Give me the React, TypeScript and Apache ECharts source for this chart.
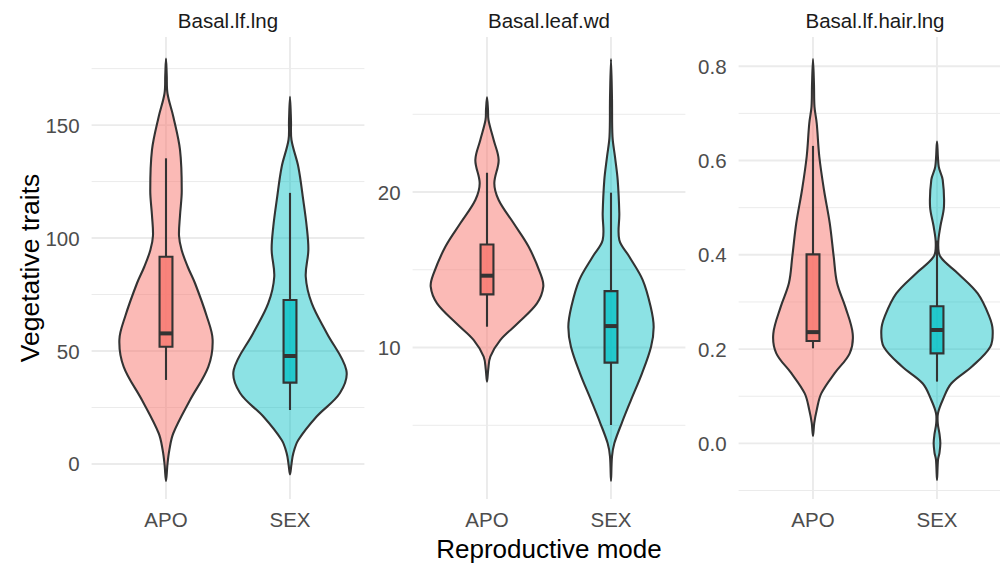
import React, { useEffect, useRef } from "react";
import * as echarts from "echarts";

// ---- data ----
const facets = ["Basal.lf.lng", "Basal.leaf.wd", "Basal.lf.hair.lng"];
const modes = ["APO", "SEX"];
const yLabelTicks = [[0, 50, 100, 150], [10, 20], [0, 0.2, 0.4, 0.6, 0.8]];
const yMinorTicks = [[25, 75, 125, 175], [5, 15, 25], [-0.1, 0.1, 0.3, 0.5, 0.7]];
const yRanges = [[-15.5, 189], [0.26, 29.97], [-0.118, 0.862]];

// violin outlines: [value, half-width of density in category units]
const lngApo = [[179.5, 0], [172, 0.006], [164, 0.012], [153.7, 0.059], [139, 0.113], [121, 0.127], [110, 0.113], [101, 0.105], [94.7, 0.126], [87.3, 0.175], [80, 0.234], [65.5, 0.328], [55, 0.376], [43, 0.341], [28.3, 0.194], [13.6, 0.059], [6.2, 0.027], [0, 0.012], [-7.5, 0]];
const lngSex = [[162.5, 0], [152, 0.008], [143.4, 0.012], [131.6, 0.067], [116.8, 0.107], [105, 0.135], [94.7, 0.148], [82.9, 0.127], [71.2, 0.175], [58, 0.296], [41.6, 0.454], [31.4, 0.403], [21, 0.215], [10.6, 0.067], [4.8, 0.027], [0, 0.012], [-4.6, 0]];
const wdApo = [[26.09, 0], [25.3, 0.008], [24.63, 0.012], [23.34, 0.054], [22.06, 0.094], [20.56, 0.059], [19.49, 0.094], [17.99, 0.215], [16.48, 0.336], [14.77, 0.43], [13.91, 0.454], [12.84, 0.403], [11.56, 0.248], [10.48, 0.107], [9.41, 0.027], [8.6, 0.01], [7.8, 0]];
const wdSex = [[28.55, 0], [26, 0.008], [23.56, 0.012], [22.27, 0.032], [20.77, 0.054], [18.63, 0.067], [16.91, 0.067], [15.84, 0.148], [14.34, 0.256], [12.62, 0.32], [11.34, 0.344], [10.05, 0.323], [8.34, 0.25], [6.62, 0.161], [5.13, 0.086], [3.84, 0.027], [2.98, 0.008], [1.43, 0]];
const hairApo = [[0.815, 0], [0.76, 0.008], [0.714, 0.012], [0.679, 0.03], [0.608, 0.051], [0.537, 0.089], [0.467, 0.135], [0.396, 0.167], [0.34, 0.194], [0.29, 0.26], [0.233, 0.32], [0.191, 0.296], [0.149, 0.175], [0.106, 0.067], [0.071, 0.03], [0.043, 0.01], [0.016, 0]];
const hairSex = [[0.64, 0], [0.587, 0.014], [0.559, 0.046], [0.502, 0.056], [0.46, 0.027], [0.424, 0.01], [0.396, 0.027], [0.361, 0.167], [0.318, 0.328], [0.269, 0.422], [0.24, 0.449], [0.205, 0.43], [0.163, 0.282], [0.127, 0.115], [0.092, 0.046], [0.064, 0.008], [0.043, 0.006], [0.02, 0.02], [0, 0.027], [-0.02, 0.02], [-0.035, 0.008], [-0.078, 0]];

// box stats: [lower whisker, q1, median, q3, upper whisker]
const lngApoBox = [37.2, 51.9, 57.8, 91.7, 135.3];
const lngSexBox = [23.9, 36, 47.8, 72.6, 120];
const wdApoBox = [11.34, 13.42, 14.62, 16.63, 21.24];
const wdSexBox = [5.02, 9.03, 11.38, 13.63, 19.96];
const hairApoBox = [0.2016, 0.217, 0.236, 0.401, 0.631];
const hairSexBox = [0.131, 0.191, 0.2405, 0.291, 0.43];

const violinOutlines = [[lngApo, lngSex], [wdApo, wdSex], [hairApo, hairSex]];
const boxStats = [[lngApoBox, lngSexBox], [wdApoBox, wdSexBox], [hairApoBox, hairSexBox]];

// ---- style / layout ----
const FONT = '"Liberation Sans", Arial, Helvetica, sans-serif';
const GRID_LEFT = [91.6, 412.6, 738.6];
const GRID_TOP = 37;
const GRID_W = 272.8;
const GRID_H = 462;
const VIOLIN_FILL = ["rgba(248,118,109,0.5)", "rgba(0,191,196,0.45)"];
const BOX_FILL = ["rgba(248,118,109,0.8)", "rgba(0,191,196,0.75)"];
const INK = "#333333";
const GRID_COLOR = "#EBEBEB";
const BOX_HALF = 0.052;
const LW = 2.1;

function buildOption() {
  const grid: any[] = [];
  const xAxis: any[] = [];
  const yAxis: any[] = [];
  const series: any[] = [];
  const graphic: any[] = [];

  for (let p = 0; p < 3; p++) {
    grid.push({
      left: GRID_LEFT[p],
      top: GRID_TOP,
      width: GRID_W,
      height: GRID_H,
      containLabel: false,
      outerBoundsMode: "none",
    });
    xAxis.push({
      type: "value",
      gridIndex: p,
      min: 0.4,
      max: 2.6,
      axisLine: { show: false },
      axisTick: { show: false },
      splitLine: { show: false },
      axisLabel: {
        customValues: [1, 2],
        formatter: (v: number) => modes[Math.round(v) - 1] || "",
        color: "#4D4D4D",
        fontSize: 20.5,
        fontFamily: FONT,
        margin: 10,
      },
    });
    yAxis.push({
      type: "value",
      gridIndex: p,
      min: yRanges[p][0],
      max: yRanges[p][1],
      axisLine: { show: false },
      axisTick: { show: false },
      splitLine: { show: false },
      axisLabel: {
        customValues: yLabelTicks[p],
        formatter: p === 2 ? (v: number) => v.toFixed(1) : (v: number) => String(Math.round(v)),
        color: "#4D4D4D",
        fontSize: 20.5,
        fontFamily: FONT,
        margin: 12,
      },
    });

    const pi = p;
    // grid lines
    series.push({
      type: "custom",
      xAxisIndex: p,
      yAxisIndex: p,
      silent: true,
      z: 0,
      data: [[1, yLabelTicks[p][0]]],
      renderItem: (params: any, api: any) => {
        const cs = params.coordSys;
        const children: any[] = [];
        const hline = (v: number, w: number) => {
          const y = api.coord([1, v])[1];
          children.push({
            type: "line",
            shape: { x1: cs.x, y1: y, x2: cs.x + cs.width, y2: y },
            style: { stroke: GRID_COLOR, lineWidth: w },
          });
        };
        yMinorTicks[pi].forEach((v) => hline(v, 1));
        yLabelTicks[pi].forEach((v) => hline(v, 1.9));
        modes.forEach((_, ci) => {
          const x = api.coord([ci + 1, yRanges[pi][0]])[0];
          children.push({
            type: "line",
            shape: { x1: x, y1: cs.y, x2: x, y2: cs.y + cs.height },
            style: { stroke: GRID_COLOR, lineWidth: 1.9 },
          });
        });
        return { type: "group", children };
      },
    });

    // violins
    series.push({
      type: "custom",
      xAxisIndex: p,
      yAxisIndex: p,
      silent: true,
      z: 2,
      data: modes.map((_, i) => [i + 1, boxStats[p][i][2]]),
      renderItem: (params: any, api: any) => {
        const i = params.dataIndex;
        const cx = api.value(0);
        const outline = violinOutlines[pi][i];
        const right = outline.map(([v, w]) => api.coord([cx + w, v]));
        const left = outline
          .slice(1, -1)
          .reverse()
          .map(([v, w]) => api.coord([cx - w, v]));
        return {
          type: "polygon",
          shape: { points: right.concat(left), smooth: 0.35 },
          style: { fill: VIOLIN_FILL[i], stroke: INK, lineWidth: LW, lineJoin: "round" },
        };
      },
    });

    // boxplots
    series.push({
      type: "custom",
      xAxisIndex: p,
      yAxisIndex: p,
      silent: true,
      z: 3,
      data: modes.map((_, i) => [i + 1, boxStats[p][i][2]]),
      renderItem: (params: any, api: any) => {
        const i = params.dataIndex;
        const cx = api.value(0);
        const [lo, q1, med, q3, hi] = boxStats[pi][i];
        const pLo = api.coord([cx, lo]);
        const pQ1 = api.coord([cx, q1]);
        const pQ3 = api.coord([cx, q3]);
        const pHi = api.coord([cx, hi]);
        const tl = api.coord([cx - BOX_HALF, q3]);
        const br = api.coord([cx + BOX_HALF, q1]);
        const mL = api.coord([cx - BOX_HALF, med]);
        const mR = api.coord([cx + BOX_HALF, med]);
        const lineStyle = { stroke: INK, lineWidth: LW };
        return {
          type: "group",
          children: [
            { type: "line", shape: { x1: pLo[0], y1: pLo[1], x2: pQ1[0], y2: pQ1[1] }, style: lineStyle },
            { type: "line", shape: { x1: pQ3[0], y1: pQ3[1], x2: pHi[0], y2: pHi[1] }, style: lineStyle },
            {
              type: "rect",
              shape: { x: tl[0], y: tl[1], width: br[0] - tl[0], height: br[1] - tl[1] },
              style: { fill: BOX_FILL[i], stroke: INK, lineWidth: LW },
            },
            { type: "line", shape: { x1: mL[0], y1: mL[1], x2: mR[0], y2: mR[1] }, style: { stroke: INK, lineWidth: 4 } },
          ],
        };
      },
    });

    graphic.push({
      type: "text",
      x: GRID_LEFT[p] + GRID_W / 2,
      y: 20,
      silent: true,
      style: {
        text: facets[p],
        align: "center",
        verticalAlign: "middle",
        fontSize: 20.5,
        fontFamily: FONT,
        fill: "#1A1A1A",
      },
    });
  }

  graphic.push({
    type: "text",
    x: 30,
    y: GRID_TOP + GRID_H / 2,
    rotation: Math.PI / 2,
    silent: true,
    style: {
      text: "Vegetative traits",
      align: "center",
      verticalAlign: "middle",
      fontSize: 26.5,
      fontFamily: FONT,
      fill: "#000000",
    },
  });
  graphic.push({
    type: "text",
    x: GRID_LEFT[1] + GRID_W / 2,
    y: 549,
    silent: true,
    style: {
      text: "Reproductive mode",
      align: "center",
      verticalAlign: "middle",
      fontSize: 26,
      fontFamily: FONT,
      fill: "#000000",
    },
  });

  return {
    animation: false,
    backgroundColor: "#FFFFFF",
    grid,
    xAxis,
    yAxis,
    series,
    graphic,
  };
}

export default function App() {
  const ref = useRef<HTMLDivElement>(null);
  useEffect(() => {
    if (!ref.current) return;
    const chart = echarts.init(ref.current, undefined, { renderer: "svg" });
    chart.setOption(buildOption() as any);
    return () => chart.dispose();
  }, []);
  return (
    <div
      ref={ref}
      style={{ position: "fixed", left: 0, top: 0, width: 1000, height: 567, background: "#fff" }}
    />
  );
}
